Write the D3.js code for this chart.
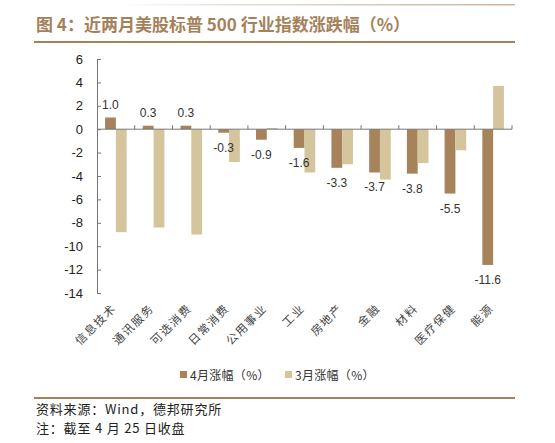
<!DOCTYPE html>
<html>
<head>
<meta charset="utf-8">
<script src="https://d3js.org/d3.v7.min.js"></script>
<style>
  body { margin: 0; background: #fff; }
  svg { display: block; }
  .cn { font-family: "Noto Sans CJK SC", sans-serif; }
  .num { font-family: "Liberation Sans", Arial, sans-serif; }
</style>
</head>
<body>
<svg id="chart" width="555" height="443"></svg>
<script>
// data
var categories = ["信息技术", "通讯服务", "可选消费", "日常消费", "公用事业", "工业", "房地产", "金融", "材料", "医疗保健", "能源"];
var aprValues = [1.0, 0.3, 0.3, -0.3, -0.9, -1.6, -3.3, -3.7, -3.8, -5.5, -11.6];
var marValues = [-8.8, -8.4, -9.0, -2.8, 0.1, -3.7, -3.0, -4.3, -2.9, -1.8, 3.7];
var seriesNames = ["4月涨幅（%）", "3月涨幅（%）"];
var yTicks = [6, 4, 2, 0, -2, -4, -6, -8, -10, -12, -14];

var colors = ["#a6835b", "#d5c59c"];
var brown = "#a5815a";

var svg = d3.select("#chart");

// top faint line
var grad = svg.append("defs").append("linearGradient").attr("id", "fade");
grad.append("stop").attr("offset", "0%").attr("stop-color", "#fff");
grad.append("stop").attr("offset", "30%").attr("stop-color", "#e6ddd2");
grad.append("stop").attr("offset", "100%").attr("stop-color", "#c9b6a0");
svg.append("rect").attr("x", 120).attr("y", 4).attr("width", 395).attr("height", 1.5).attr("fill", "url(#fade)");

// title
svg.append("text").attr("class", "cn")
  .attr("x", 36).attr("y", 31)
  .attr("fill", brown).attr("font-size", 17).attr("font-weight", "bold")
  .text("图 4：近两月美股标普 500 行业指数涨跌幅（%）");
svg.append("rect").attr("x", 34).attr("y", 41).attr("width", 481).attr("height", 2).attr("fill", brown);

// scales
var plotL = 97, plotR = 512, plotT = 59, plotB = 293;
var x = d3.scaleBand().domain(categories).range([plotL, plotR]).padding(0);
var y = d3.scaleLinear().domain([-14, 6]).range([plotB, plotT]);
var bw = x.bandwidth();
var x1 = d3.scaleBand().domain([0, 1]).range([bw / 2 - 10.8, bw / 2 + 10.8]).padding(0);

// y axis
var yAxis = svg.append("g").attr("transform", "translate(" + plotL + ",0)")
  .call(d3.axisLeft(y).tickValues(yTicks).tickSize(-4).tickPadding(14)
    .tickFormat(function(d) { return String(d); }));
yAxis.select(".domain").attr("stroke", "#777");
yAxis.selectAll(".tick line").attr("stroke", "#777");
yAxis.selectAll("text").attr("class", "num").attr("font-size", 13).attr("fill", "#222");

// bars
var rows = categories.map(function(c, i) { return { cat: c, vals: [aprValues[i], marValues[i]] }; });
var groups = svg.selectAll("g.grp").data(rows).enter().append("g")
  .attr("class", "grp")
  .attr("transform", function(d) { return "translate(" + x(d.cat) + ",0)"; });
groups.selectAll("rect").data(function(d) { return d.vals; }).enter().append("rect")
  .attr("x", function(d, i) { return x1(i); })
  .attr("width", x1.bandwidth())
  .attr("y", function(d) { return y(Math.max(0, d)); })
  .attr("height", function(d) { return Math.abs(y(d) - y(0)); })
  .attr("fill", function(d, i) { return colors[i]; });

// x axis line at zero with upward ticks at band edges
svg.append("line").attr("x1", plotL).attr("x2", plotR).attr("y1", y(0)).attr("y2", y(0)).attr("stroke", "#777");
var edges = categories.map(function(c) { return x(c); }).concat([plotR]);
svg.selectAll("line.xt").data(edges.slice(1)).enter().append("line")
  .attr("class", "xt")
  .attr("x1", function(d) { return d; }).attr("x2", function(d) { return d; })
  .attr("y1", y(0)).attr("y2", y(0) - 4).attr("stroke", "#777");

// data labels for 4月
svg.selectAll("text.lbl").data(rows).enter().append("text")
  .attr("class", "num")
  .attr("x", function(d) { return x(d.cat) + x1(0) + x1.bandwidth() / 2; })
  .attr("y", function(d) { var v = d.vals[0]; return v >= 0 ? y(v) - 9 : y(v) + 19; })
  .attr("text-anchor", "middle").attr("font-size", 12).attr("fill", "#333")
  .text(function(d) { return d.vals[0].toFixed(1); });

// category labels, rotated
svg.selectAll("text.cat").data(categories).enter().append("text")
  .attr("class", "cn")
  .attr("transform", function(d) { return "translate(" + (x(d) + bw / 2 + 1) + "," + (plotB + 16) + ") rotate(-45)"; })
  .attr("text-anchor", "end").attr("font-size", 11.5).attr("letter-spacing", 1.5).attr("fill", "#444")
  .text(function(d) { return d; });

// legend
var legend = svg.append("g").attr("transform", "translate(180,375)");
var lx = [0, 105];
seriesNames.forEach(function(s, i) {
  legend.append("rect").attr("x", lx[i]).attr("y", -4).attr("width", 7).attr("height", 7).attr("fill", colors[i]);
  legend.append("text").attr("class", "cn").attr("x", lx[i] + 10).attr("y", 4.5)
    .attr("font-size", 12).attr("letter-spacing", 0.3).attr("fill", "#333").text(s);
});

// footer
svg.append("rect").attr("x", 34).attr("y", 397).attr("width", 481).attr("height", 2).attr("fill", brown);
svg.append("text").attr("class", "cn").attr("x", 36).attr("y", 414)
  .attr("font-size", 13).attr("letter-spacing", 0.8).attr("fill", "#222").text("资料来源：Wind，德邦研究所");
svg.append("text").attr("class", "cn").attr("x", 36).attr("y", 433)
  .attr("font-size", 13).attr("letter-spacing", 0.8).attr("fill", "#222").text("注：截至 4 月 25 日收盘");
</script>
</body>
</html>
